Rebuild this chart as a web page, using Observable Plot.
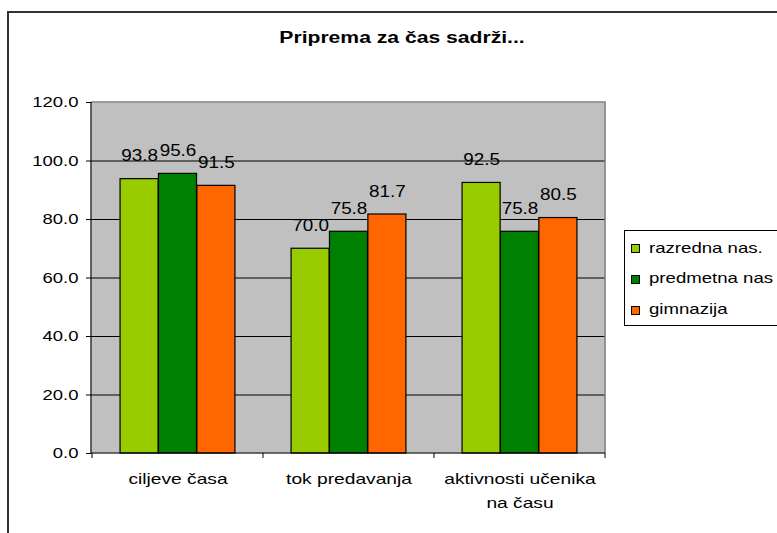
<!DOCTYPE html>
<html><head><meta charset="utf-8">
<script src="https://cdn.jsdelivr.net/npm/d3@7"></script>
<script src="https://cdn.jsdelivr.net/npm/@observablehq/plot@0.6"></script>
<style>
body{margin:0;background:#fff;overflow:hidden;width:777px;height:533px;position:relative;font-family:"Liberation Sans",Arial,sans-serif;color:#000;}
#outer{position:absolute;left:7px;top:11px;width:820px;height:600px;border-left:2px solid #333;border-top:2px solid #333;}
#chart{position:absolute;left:0;top:0;}
#title{position:absolute;left:202px;width:400px;top:29.5px;line-height:1;text-align:center;font-weight:bold;font-size:16px;white-space:nowrap;transform:scaleX(1.32);transform-origin:50% 0;}
#legend{position:absolute;left:624px;top:230px;width:170px;height:96px;box-sizing:border-box;border:1px solid #000;background:#fff;}
.li{position:absolute;left:6px;height:16px;line-height:16px;font-size:15px;white-space:nowrap;}
.sw{display:inline-block;width:9px;height:9px;box-sizing:border-box;border:1px solid #000;margin-right:9px;vertical-align:-0.5px;}
.lt{display:inline-block;transform:scaleX(1.24);transform-origin:0 50%;}
</style></head>
<body>
<div id="outer"></div>
<div id="chart"></div>
<div id="title">Priprema za čas sadrži...</div>
<div id="legend"></div>
<script>
const categories = ["ciljeve časa", "tok predavanja", "aktivnosti učenika\nna času"];
const series = ["razredna nas.", "predmetna nas", "gimnazija"];
const razredna = [93.8, 70.0, 92.5];
const predmetna = [95.6, 75.8, 75.8];
const gimnazija = [91.5, 81.7, 80.5];
const colors = ["#99CC00", "#008000", "#FF6600"];
const yTicks = [0, 20, 40, 60, 80, 100, 120];

const values = [razredna, predmetna, gimnazija];
const rows = [];
series.forEach((s, i) => categories.forEach((c, j) => rows.push({cat: c, series: s, si: i, value: values[i][j]})));

const W = 777, H = 533, ML = 91, MR = 172, MT = 102, MB = 80;
const bandW = (W - ML - MR) / categories.length;
const BW = 38.4;
const inset = (bandW - BW) / 2;

const barMarks = [];
const labelMarks = [];
series.forEach((s, i) => {
  const d = rows.filter(r => r.si === i);
  barMarks.push(Plot.barY(d, {x: "cat", y: "value", fill: colors[i], stroke: "#000", strokeWidth: 1.2,
    dx: (i - 1) * BW, insetLeft: inset, insetRight: inset}));
  labelMarks.push(Plot.text(d, {x: "cat", y: "value", text: r => r.value.toFixed(1), dx: (i - 1) * BW,
    dy: -18, lineAnchor: "bottom", fontSize: 16, fill: "#000"}));
});

const frameLines = (index, scales, values, dims) => {
  const g = d3.create("svg:g");
  const left = dims.marginLeft, right = dims.width - dims.marginRight;
  const top = dims.marginTop, bottom = dims.height - dims.marginBottom;
  g.append("path").attr("d", `M${left},${top}H${right}V${bottom}`).attr("fill", "none").attr("stroke", "#808080").attr("stroke-width", 1.5);
  g.append("path").attr("d", `M${left},${top}V${bottom}H${right}`).attr("fill", "none").attr("stroke", "#000").attr("stroke-width", 1.2);
  const xs = categories.map(c => scales.x(c)).concat([right]);
  xs.forEach(x => g.append("line").attr("x1", x).attr("x2", x).attr("y1", bottom).attr("y2", bottom + 5).attr("stroke", "#000"));
  return g.node();
};

const plot = Plot.plot({
  width: W, height: H,
  marginLeft: ML, marginRight: MR, marginTop: MT, marginBottom: MB,
  style: {background: "none", fontFamily: "Liberation Sans, Arial, sans-serif", fontSize: "15px", color: "#000", overflow: "visible"},
  x: {domain: categories, padding: 0, label: null},
  y: {domain: [0, 120], label: null},
  marks: [
    Plot.frame({fill: "#C0C0C0"}),
    Plot.gridY(yTicks.filter(t => t > 0 && t < 120), {stroke: "#000", strokeOpacity: 1, strokeWidth: 1}),
    ...barMarks,
    frameLines,
    ...labelMarks,
    Plot.axisY({ticks: yTicks, tickFormat: d3.format(".1f"), tickSize: 5, tickPadding: 8, fontSize: 15, label: null}),
    Plot.axisX({tickSize: 0, tickPadding: 13, fontSize: 15, lineHeight: 1.6, label: null})
  ]
});
document.getElementById("chart").appendChild(plot);
function widen(sel, k) {
  d3.select(plot).selectAll(sel).each(function () {
    const t = this.getAttribute("transform") || "";
    this.setAttribute("transform", t + ` scale(${k},1)`);
  });
}
widen('g[aria-label="y-axis tick label"] text', 1.23);
widen('g[aria-label="x-axis tick label"] text', 1.28);
widen('g[aria-label="text"] text', 1.18);

const legend = d3.select("#legend");
const centers = [16.7, 47.3, 78.3];
series.forEach((s, i) => {
  const it = legend.append("div").attr("class", "li").style("top", (centers[i] - 8) + "px");
  it.append("span").attr("class", "sw").style("background", colors[i]);
  it.append("span").attr("class", "lt").text(s);
});
</script>
</body></html>
